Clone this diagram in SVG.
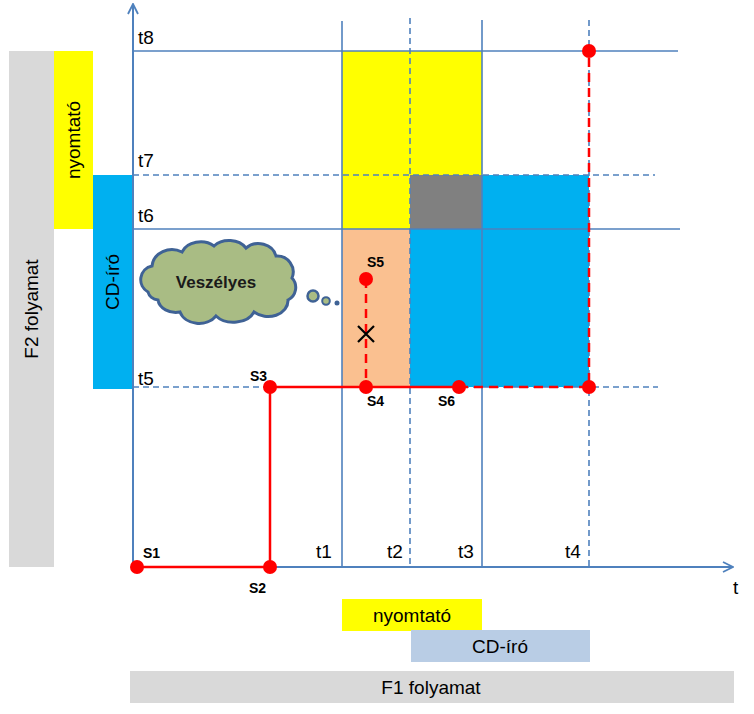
<svg xmlns="http://www.w3.org/2000/svg" width="754" height="714" viewBox="0 0 754 714">
<style>
.lbl{font-family:"Liberation Sans",Arial,sans-serif;font-size:19px;fill:#000}
.pt{font-family:"Liberation Sans",Arial,sans-serif;font-size:14px;font-weight:bold;fill:#000}
.grid{stroke:#4F81BD;stroke-width:1.6;fill:none}
.dash{stroke-dasharray:6,4}
.red{stroke:#FF0000;stroke-width:2.5;fill:none}
.dot{fill:#FF0000}
</style>
<defs>
<marker id="arr" viewBox="0 0 12 12" refX="11" refY="6" markerWidth="12" markerHeight="12" markerUnits="userSpaceOnUse" orient="auto">
<path d="M1,1 L11,6 L1,11" fill="none" stroke="#4F81BD" stroke-width="1.8"/>
</marker>
</defs>
<g id="background-bars">
<rect id="f2-bar" x="9" y="51" width="45" height="516" fill="#D9D9D9"/>
<rect id="f2-printer" x="54" y="51" width="39" height="178" fill="#FFFF00"/>
<rect id="f2-cd" x="93" y="175" width="39" height="214" fill="#00B0F0"/>
<rect id="f1-printer" x="342" y="599" width="140" height="32" fill="#FFFF00"/>
<rect id="f1-cd" x="411" y="630" width="179" height="32" fill="#B9CDE5"/>
<rect id="f1-bar" x="130" y="671" width="604" height="32" fill="#D9D9D9"/>
</g>
<g id="regions">
<rect x="342" y="51" width="140" height="178" fill="#FFFF00"/>
<rect x="410" y="175" width="72" height="54" fill="#808080"/>
<rect x="482" y="175" width="107" height="54" fill="#00B0F0"/>
<rect x="410" y="229" width="179" height="158" fill="#00B0F0"/>
<rect x="342" y="229" width="68" height="158" fill="#FAC090"/>
</g>
<g id="connectors">
<line class="grid" x1="133" y1="51" x2="678" y2="51"/>
<line class="grid dash" x1="133" y1="175" x2="655" y2="175"/>
<line class="grid" x1="133" y1="229" x2="680" y2="229"/>
<line class="grid dash" x1="133" y1="387" x2="658" y2="387"/>
<line class="grid" x1="342" y1="21" x2="342" y2="567"/>
<line class="grid dash" x1="410" y1="18" x2="410" y2="567"/>
<line class="grid" x1="482" y1="20" x2="482" y2="567"/>
<line class="grid dash" x1="589" y1="20" x2="589" y2="567"/>
<line stroke="#4F81BD" stroke-width="2" x1="133" y1="567" x2="133" y2="4" marker-end="url(#arr)"/>
<line stroke="#4F81BD" stroke-width="2" x1="133" y1="567" x2="733" y2="567" marker-end="url(#arr)"/>
<polyline class="red" points="137,567 270,567 270,387 459,387"/>
<polyline class="red" stroke-dasharray="9,6" points="459,387 589,387 589,51"/>
<line class="red" stroke-dasharray="9,6" x1="366" y1="279" x2="366" y2="387"/>
<path d="M358,326 L374,342 M374,326 L358,342" stroke="#000" stroke-width="2.2"/>
</g>
<g id="points">
<circle class="dot" cx="137" cy="567" r="7"/>
<circle class="dot" cx="270" cy="567" r="7"/>
<circle class="dot" cx="270" cy="387" r="7"/>
<circle class="dot" cx="366" cy="387" r="7"/>
<circle class="dot" cx="366" cy="279" r="7"/>
<circle class="dot" cx="459" cy="387" r="7"/>
<circle class="dot" cx="589" cy="387" r="7"/>
<circle class="dot" cx="589" cy="51" r="7"/>
<text class="pt" x="143" y="558">S1</text>
<text class="pt" x="249" y="593">S2</text>
<text class="pt" x="250" y="381">S3</text>
<text class="pt" x="367" y="406">S4</text>
<text class="pt" x="367" y="267">S5</text>
<text class="pt" x="438" y="406">S6</text>
</g>
<g id="axis-labels">
<text class="lbl" x="138" y="44">t8</text>
<text class="lbl" x="138" y="167">t7</text>
<text class="lbl" x="138" y="222">t6</text>
<text class="lbl" x="138" y="385">t5</text>
<text class="lbl" x="316" y="558">t1</text>
<text class="lbl" x="387" y="558">t2</text>
<text class="lbl" x="458" y="558">t3</text>
<text class="lbl" x="565" y="558">t4</text>
<text class="lbl" x="733" y="594">t</text>
</g>
<g id="bar-labels">
<text class="lbl" text-anchor="middle" transform="translate(38,309) rotate(-90)">F2 folyamat</text>
<text class="lbl" text-anchor="middle" transform="translate(80,140) rotate(-90)">nyomtató</text>
<text class="lbl" text-anchor="middle" transform="translate(119,282) rotate(-90)">CD-író</text>
<text class="lbl" text-anchor="middle" x="412" y="622">nyomtató</text>
<text class="lbl" text-anchor="middle" x="500" y="653">CD-író</text>
<text class="lbl" text-anchor="middle" x="431" y="694">F1 folyamat</text>
</g>
<g id="cloud">
<path d="M148,292 a14,14 0 0 1 4,-26 a20,18 0 0 1 30,-14 a20,16 0 0 1 32,-6 a20,16 0 0 1 32,2 a18,16 0 0 1 30,8 a16,16 0 0 1 16,22 a14,14 0 0 1 -4,22 a20,16 0 0 1 -34,12 a22,16 0 0 1 -38,4 a20,16 0 0 1 -36,-4 a18,14 0 0 1 -22,-12 a12,10 0 0 1 -10,-8 z" fill="#A9BC84" stroke="#3F6295" stroke-width="3"/>
<circle cx="313" cy="296" r="5.5" fill="#A9BC84" stroke="#3F6295" stroke-width="2.5"/>
<circle cx="326" cy="301" r="3.8" fill="#A9BC84" stroke="#3F6295" stroke-width="2"/>
<circle cx="337" cy="303" r="2.5" fill="#3F6295"/>
<text x="216" y="288" text-anchor="middle" font-family="Liberation Sans,Arial,sans-serif" font-size="17" font-weight="bold" fill="#1a1a1a">Veszélyes</text>
</g>
</svg>
